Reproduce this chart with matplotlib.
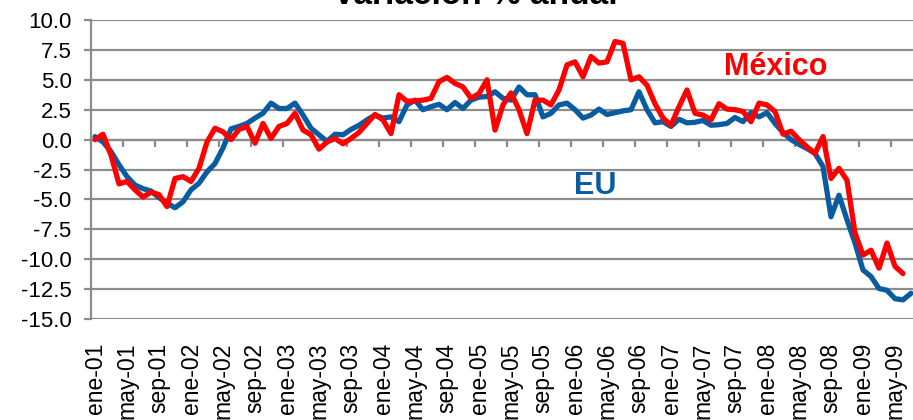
import numpy as np
import matplotlib
matplotlib.use("Agg")
import matplotlib.pyplot as plt
from matplotlib.ticker import FormatStrFormatter

month_names = ["ene", "feb", "mar", "abr", "may", "jun", "jul", "ago", "sep", "oct", "nov", "dic"]
years = ["01", "02", "03", "04", "05", "06", "07", "08", "09"]
categories = [f"{m}-{y}" for y in years for m in month_names][:103]

eu = [0.25, -0.2, -1.0, -2.1, -3.1, -3.8, -4.1, -4.3, -4.85, -5.3,
      -5.7, -5.2, -4.2, -3.65, -2.7, -2.0, -0.7, 0.9, 1.1, 1.35,
      1.8, 2.2, 3.05, 2.6, 2.6, 3.05, 2.05, 0.95, 0.4, -0.15,
      0.45, 0.4, 0.85, 1.2, 1.65, 2.05, 1.8, 1.9, 1.5, 2.9,
      3.3, 2.5, 2.75, 2.95, 2.5, 3.1, 2.6, 3.3, 3.55, 3.6,
      4.0, 3.45, 3.3, 4.4, 3.75, 3.75, 1.9, 2.2, 2.9, 3.05,
      2.5, 1.8, 2.05, 2.55, 2.1, 2.25, 2.4, 2.5, 4.0, 2.5,
      1.4, 1.5, 1.1, 1.7, 1.4, 1.45, 1.6, 1.2, 1.25, 1.35,
      1.85, 1.5, 2.25, 1.9, 2.25, 1.35, 0.6, 0.0, -0.4, -0.75,
      -1.15, -2.25, -6.45, -4.65, -6.7, -8.65, -10.9, -11.45, -12.45, -12.6,
      -13.3, -13.4, -12.85]

mexico = [0.0, 0.45, -1.3, -3.7, -3.5, -4.2, -4.8, -4.4, -4.6, -5.6,
          -3.25, -3.1, -3.5, -2.4, -0.2, 0.95, 0.65, 0.0, 0.85, 1.1,
          -0.3, 1.35, 0.1, 1.1, 1.35, 2.2, 0.8, 0.4, -0.8, -0.2,
          0.1, -0.35, 0.1, 0.6, 1.35, 2.1, 1.65, 0.5, 3.75, 3.2,
          3.25, 3.3, 3.45, 4.85, 5.2, 4.7, 4.4, 3.45, 3.85, 5.0,
          0.8, 2.9, 3.9, 2.5, 0.5, 3.3, 3.3, 2.9, 4.15, 6.25,
          6.5, 5.25, 6.95, 6.4, 6.5, 8.2, 8.05, 5.0, 5.25, 4.55,
          3.0, 1.8, 1.2, 2.75, 4.15, 2.2, 2.05, 1.65, 3.0, 2.55,
          2.5, 2.35, 1.5, 3.05, 2.9, 2.35, 0.45, 0.7, 0.0, -0.6,
          -1.15, 0.25, -3.25, -2.4, -3.4, -7.8, -9.65, -9.25, -10.75, -8.65,
          -10.6, -11.2]

title = "Variación % anual"
blue = "#0A5CA0"
red = "#FF0000"
grid_c = "#8C8C8C"

plt.rcParams["font.family"] = ["Liberation Sans", "DejaVu Sans"]

fig = plt.figure(figsize=(9.13, 4.2), dpi=100)
ax = fig.add_axes([91 / 913, 101 / 420, 822 / 913, 299 / 420])

x_eu = np.arange(len(eu))
x_mx = np.arange(len(mexico))
ax.plot(x_eu, eu, color=blue, lw=3.8, solid_joinstyle="round", solid_capstyle="round", zorder=3)
ax.plot(x_mx, mexico, color=red, lw=3.8, solid_joinstyle="round", solid_capstyle="round", zorder=4)

ax.set_xlim(-0.5, 102.25)
ax.set_ylim(-15, 10)
ax.set_yticks(np.arange(-15, 10.01, 2.5))
ax.yaxis.set_major_formatter(FormatStrFormatter("%.1f"))
ax.yaxis.grid(True, color=grid_c, lw=1.6)
ax.set_axisbelow(True)
for s in ["top", "right", "bottom"]:
    ax.spines[s].set_visible(False)
ax.spines["left"].set_color(grid_c)
ax.spines["left"].set_linewidth(1.6)
ax.tick_params(axis="y", length=5, width=1.6, color=grid_c, pad=9)
for lab in ax.get_yticklabels():
    lab.set_family(["Liberation Sans Narrow", "Liberation Sans", "DejaVu Sans"])
    lab.set_fontsize(16)

tick_idx = list(range(0, len(categories), 4))
ax.set_xticks(tick_idx)
ax.set_xticklabels([categories[i] for i in tick_idx], rotation=90, fontsize=16.5, va="top")
ax.tick_params(axis="x", length=0, pad=17)

sec = ax.secondary_xaxis(0.6)
sec.set_xticks(np.arange(-0.5, 103, 4))
sec.tick_params(direction="in", length=5, width=1.6, color=grid_c, labeltop=False, labelbottom=False)
for s in sec.spines.values():
    s.set_color(grid_c)
    s.set_linewidth(1.6)

ax.text(85.1, 5.4, "México", color=red, fontsize=22, fontweight="bold", ha="center", va="baseline")
ax.text(62.5, -4.55, "EU", color=blue, fontsize=22, fontweight="bold", ha="center", va="baseline")

fig.text(475 / 913, 1 - 4 / 420, title, fontsize=24, fontweight="bold", ha="center", va="baseline")

fig.savefig("out.png", dpi=100)
